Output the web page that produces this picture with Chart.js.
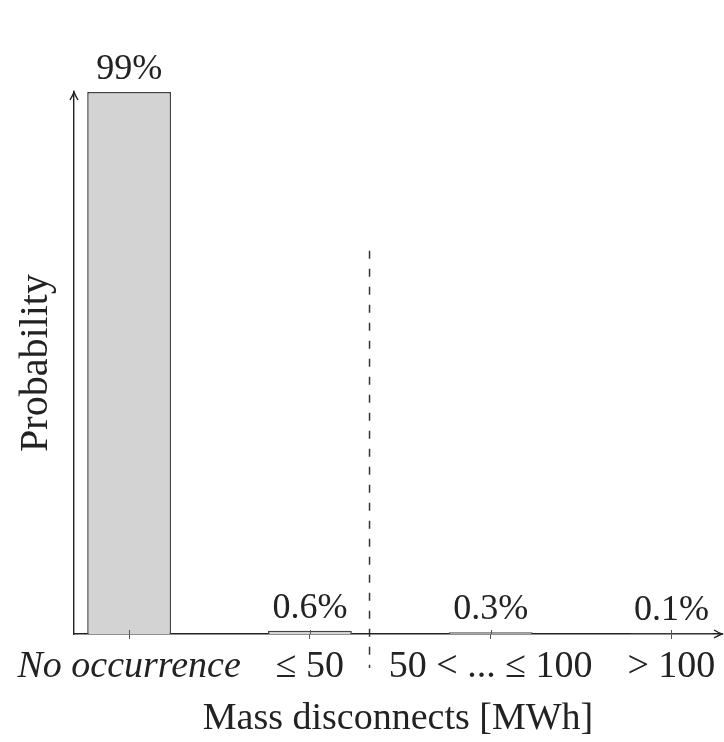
<!DOCTYPE html>
<html>
<head>
<meta charset="utf-8">
<script src="https://cdn.jsdelivr.net/npm/chart.js@4.4.1/dist/chart.umd.min.js"></script>
<style>
    html, body { margin: 0; padding: 0; background: #ffffff; }
    #wrap { width: 724px; height: 742px; }
</style>
</head>
<body>
<div id="wrap"><canvas id="chart" width="724" height="742"></canvas></div>
<script>
// Chart data
const categories = ['No occurrence', '\u2264 50', '50 < ... \u2264 100', '> 100'];
const xPositions = [0, 1, 2, 3];
const probabilities = [99, 0.6, 0.3, 0.1];

// Dashed separator (x in category units, top in % units)
const dividerAt = 1.33;
const dividerTop = 70;

const serif = 'Liberation Serif';
const ink = '#222222';

// Percent labels, dashed separator and axis arrows
const decorPlugin = {
    id: 'decor',
    afterDraw(chart) {
        const ctx = chart.ctx;
        const area = chart.chartArea;
        const xs = chart.scales.x;
        const ys = chart.scales.y;

        // value labels above bars
        const meta = chart.getDatasetMeta(0);
        ctx.save();
        ctx.fillStyle = ink;
        ctx.font = '36px "' + serif + '"';
        ctx.textAlign = 'center';
        ctx.textBaseline = 'alphabetic';
        meta.data.forEach((bar, i) => {
            ctx.fillText(probabilities[i] + '%', bar.x, bar.y - 13);
        });
        ctx.restore();

        // small tick marks above the x axis
        ctx.save();
        ctx.strokeStyle = '#555';
        ctx.lineWidth = 1;
        xPositions.forEach(v => {
            const px = Math.round(xs.getPixelForValue(v)) + 0.5;
            ctx.beginPath();
            ctx.moveTo(px, area.bottom);
            ctx.lineTo(px, area.bottom - 4);
            ctx.stroke();
        });
        ctx.restore();

        // dashed separator
        ctx.save();
        ctx.strokeStyle = '#333';
        ctx.lineWidth = 1.5;
        ctx.setLineDash([8, 10]);
        const dx = xs.getPixelForValue(dividerAt);
        ctx.beginPath();
        ctx.moveTo(dx, ys.getPixelForValue(dividerTop));
        ctx.lineTo(dx, area.bottom + 34);
        ctx.stroke();
        ctx.restore();

        // arrow heads
        ctx.save();
        ctx.strokeStyle = ink;
        ctx.lineWidth = 1.4;
        ctx.beginPath();
        ctx.moveTo(area.left - 4, area.top + 8);
        ctx.quadraticCurveTo(area.left - 1, area.top + 3, area.left, area.top);
        ctx.quadraticCurveTo(area.left + 1, area.top + 3, area.left + 4, area.top + 8);
        ctx.moveTo(area.right - 8, area.bottom - 4);
        ctx.quadraticCurveTo(area.right - 3, area.bottom - 1, area.right, area.bottom);
        ctx.quadraticCurveTo(area.right - 3, area.bottom + 1, area.right - 8, area.bottom + 4);
        ctx.stroke();
        ctx.restore();
    }
};

const ctx = document.getElementById('chart').getContext('2d');
const chart = new Chart(ctx, {
    type: 'bar',
    data: {
        datasets: [{
            data: xPositions.map((x, i) => ({ x: x, y: probabilities[i] })),
            backgroundColor: '#d3d3d3',
            borderColor: '#444444',
            borderWidth: 1.5,
            barPercentage: 0.464,
            categoryPercentage: 1
        }]
    },
    options: {
        responsive: false,
        animation: false,
        layout: {
            padding: { top: 92, right: 2, left: 0, bottom: 0 }
        },
        plugins: {
            legend: { display: false },
            tooltip: { enabled: false }
        },
        scales: {
            x: {
                type: 'linear',
                offset: false,
                min: -0.305,
                max: 3.28,
                afterBuildTicks: scale => {
                    scale.ticks = xPositions.map(v => ({ value: v }));
                },
                afterFit: scale => { scale.height = 108; },
                grid: {
                    display: true,
                    offset: false,
                    drawOnChartArea: false,
                    drawTicks: true,
                    tickLength: 5,
                    color: '#555'
                },
                border: { display: true, color: ink, width: 1.4 },
                ticks: {
                    autoSkip: false,
                    maxRotation: 0,
                    minRotation: 0,
                    padding: 5,
                    color: ink,
                    font: c => ({
                        family: serif,
                        size: 38,
                        style: c.index === 0 ? 'italic' : 'normal'
                    }),
                    callback: (value, index) => categories[index]
                },
                title: {
                    display: true,
                    text: 'Mass disconnects [MWh]',
                    color: ink,
                    font: { family: serif, size: 38 },
                    padding: { top: 0, bottom: 0 }
                }
            },
            y: {
                min: 0,
                max: 99,
                afterFit: scale => { scale.width = 74; },
                grid: { display: false },
                border: { display: true, color: ink, width: 1.4 },
                ticks: { display: false },
                title: {
                    display: true,
                    text: 'Probability',
                    color: ink,
                    font: { family: serif, size: 40 },
                    padding: { top: 12, bottom: 0 }
                }
            }
        }
    },
    plugins: [decorPlugin]
});
</script>
</body>
</html>
